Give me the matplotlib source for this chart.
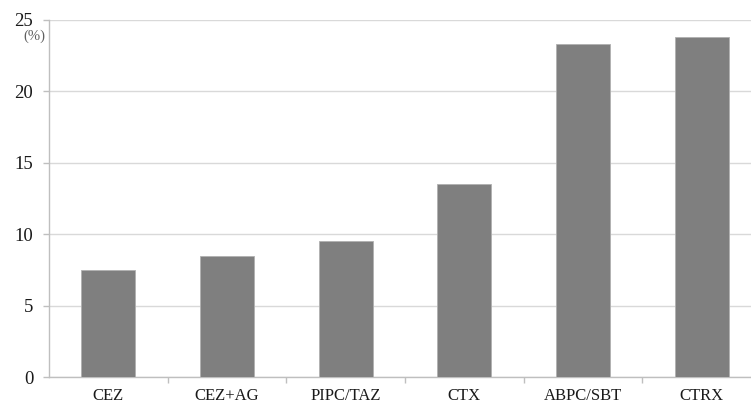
import matplotlib
matplotlib.use("Agg")
import matplotlib.pyplot as plt
from matplotlib.ticker import FixedLocator

plt.rcParams['font.family'] = ['Liberation Serif', 'DejaVu Serif']

categories = ["CEZ", "CEZ+AG", "PIPC/TAZ", "CTX", "ABPC/SBT", "CTRX"]
values = [7.5, 8.5, 9.5, 13.5, 23.3, 23.8]
y_ticks = [0, 5, 10, 15, 20, 25]

fig = plt.figure(figsize=(7.51, 4.03), dpi=100)
# axes run slightly past the right edge of the canvas
ax = fig.add_axes([49 / 751, 1 - 377 / 403, 712 / 751, 357 / 403])

x = list(range(len(categories)))
ax.bar(x, values, width=0.455, color="#7f7f7f", edgecolor="#b0b0b0",
       linewidth=0.6, zorder=3)

ax.set_xlim(-0.5, len(categories) - 0.5)
ax.set_ylim(0, 25)

ax.set_yticks(y_ticks)
ax.yaxis.grid(True, color="#d9d9d9", linewidth=1.0, zorder=0)
ax.set_axisbelow(True)

ax.set_xticks(x)
ax.set_xticklabels(categories)
ax.xaxis.set_minor_locator(FixedLocator([i + 0.5 for i in range(len(categories))]))

for side in ("top", "right"):
    ax.spines[side].set_visible(False)
for side in ("left", "bottom"):
    ax.spines[side].set_color("#bfbfbf")
    ax.spines[side].set_linewidth(1.0)

ax.tick_params(axis="y", length=4.3, width=1.0, color="#bfbfbf", pad=7,
               labelsize=13.5, labelcolor="#1a1a1a")
ax.tick_params(axis="x", which="major", length=0, pad=8, labelsize=12,
               labelcolor="#1a1a1a")
ax.tick_params(axis="x", which="minor", length=4, width=1.0, color="#bfbfbf")

fig.text(23 / 751, 1 - 36 / 403, "(%)", fontsize=10.5, color="#606060",
         va="center", ha="left")

fig.savefig("out.png", dpi=100)
